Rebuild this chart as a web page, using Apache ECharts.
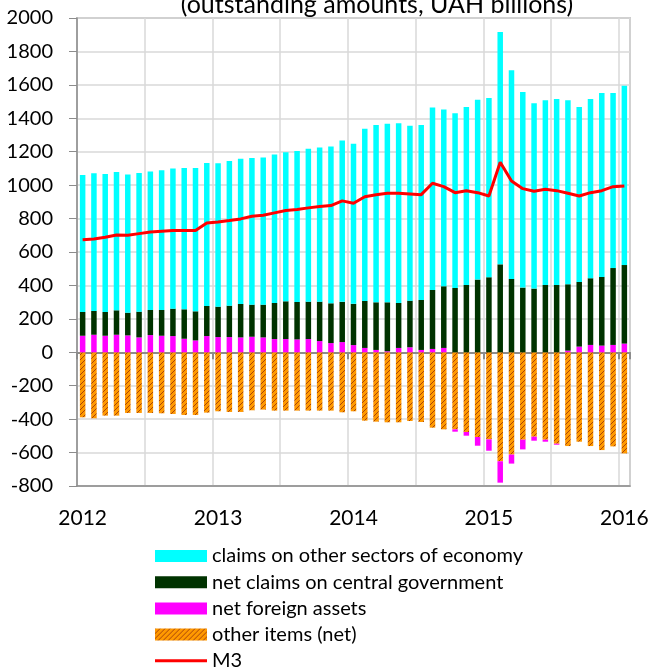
<!DOCTYPE html>
<html>
<head>
<meta charset="utf-8">
<script src="https://cdn.jsdelivr.net/npm/echarts@6/dist/echarts.min.js"></script>
<style>
html,body{margin:0;padding:0;background:#fff;}
#chart{width:654px;height:670px;}
</style>
</head>
<body>
<div id="chart"></div>
<script>
// Monthly categories Jan 2012 .. Jan 2016
const months = [];
for (let y = 2012; y <= 2016; y++) {
  for (let m = 1; m <= 12; m++) {
    if (y === 2016 && m > 1) break;
    months.push(y + '-' + (m < 10 ? '0' + m : m));
  }
}
const yearLabels = ['2012', '2013', '2014', '2015', '2016'];

const claimsOtherSectors = [820,824,826,828,826,830,828,836,838,846,858,856,858,866,869,878,880,888,892,904,914,922,938,965,958,1031,1061,1069,1075,1047,1047,1091,1057,1045,1065,1076,1073,1390,1248,1170,1109,1105,1112,1101,1047,1072,1100,1047,1073];
const netClaimsGov = [142,142,142,146,136,154,150,154,164,176,174,180,182,188,200,192,196,216,226,224,224,236,238,241,247,281,285,293,269,279,299,353,369,385,403,435,449,526,439,387,381,403,403,397,387,399,411,460,470];
const netForeignAssets = [99,105,99,105,101,89,103,99,97,81,71,97,91,91,89,93,89,79,79,77,79,67,55,61,43,26,14,6,26,30,14,20,26,-14,-22,-52,-68,-128,-54,-58,-24,-12,-6,10,34,44,40,44,52];
const otherItems = [-389,-395,-379,-379,-363,-363,-363,-365,-369,-375,-375,-361,-353,-357,-357,-347,-343,-349,-349,-349,-349,-349,-349,-359,-353,-409,-415,-419,-419,-411,-417,-451,-461,-461,-477,-507,-521,-652,-612,-523,-505,-523,-547,-561,-535,-561,-585,-563,-605];
const m3 = [674,678,688,702,700,710,720,724,728,728,728,774,780,788,798,814,820,834,848,854,864,872,878,906,892,931,943,951,951,947,943,1011,991,955,967,955,935,1137,1025,979,963,975,967,951,935,955,967,991,995];

const names = ['claims on other sectors of economy','net claims on central government','net foreign assets','other items (net)','M3'];

// hatch pattern for "other items"
const pc = document.createElement('canvas');
pc.width = 5; pc.height = 5;
const ctx = pc.getContext('2d');
ctx.fillStyle = '#ff9900';
ctx.fillRect(0,0,5,5);
ctx.strokeStyle = '#a8440a';
ctx.lineWidth = 1;
ctx.beginPath();
ctx.moveTo(0,5); ctx.lineTo(5,0);
ctx.moveTo(-1,1); ctx.lineTo(1,-1);
ctx.moveTo(4,6); ctx.lineTo(6,4);
ctx.stroke();
const hatch = {image: pc, repeat: 'repeat'};

const FONT = 'Lato, "Liberation Sans", sans-serif';
const BW = 5.5;

const chart = echarts.init(document.getElementById('chart'), null, {renderer: 'canvas'});
chart.setOption({
  animation: false,
  title: {
    text: '(outstanding amounts, UAH billions)',
    left: 372, textAlign: 'center', top: -13,
    textStyle: {fontFamily: FONT, fontSize: 25, fontWeight: 'normal', color: '#000'}
  },
  grid: {left: 77, right: 24, top: 18, bottom: 184, show: true, borderColor: '#a6a6a6', borderWidth: 1.5, containLabel: false},
  legend: {
    orient: 'vertical', left: 150, top: 541, height: 200,
    itemWidth: 52, itemHeight: 12, itemGap: 6.2,
    symbolKeepAspect: true,
    textStyle: {fontFamily: FONT, fontSize: 20, lineHeight: 20, color: '#000'},
    data: [
      {name: names[0], icon: 'rect'},
      {name: names[1], icon: 'rect'},
      {name: names[2], icon: 'rect'},
      {name: names[3], icon: 'rect'},
      {name: names[4], icon: 'path://M0,0h52v3h-52z'}
    ]
  },
  xAxis: [
    {
      type: 'category', data: months, boundaryGap: true, position: 'bottom',
      axisLine: {show: true, onZero: true, lineStyle: {color: '#8c8c8c', width: 2}},
      axisTick: {show: true, interval: (i) => i % 12 === 0, length: 7, lineStyle: {color: '#8c8c8c', width: 2}},
      axisLabel: {show: false},
      splitLine: {show: true, interval: (i) => i % 6 === 0, lineStyle: {color: '#d9d9d9', width: 1.5}}
    },
    {
      type: 'category', data: months, boundaryGap: true, position: 'bottom',
      axisLine: {show: true, onZero: false, lineStyle: {color: '#8c8c8c', width: 1.5}},
      axisTick: {show: false},
      splitLine: {show: false},
      axisLabel: {
        show: true, interval: (i) => i % 12 === 0, margin: 22,
        formatter: (v) => yearLabels[yearLabels.indexOf(v.slice(0,4))],
        fontFamily: FONT, fontSize: 21, color: '#000'
      }
    }
  ],
  yAxis: {
    type: 'value', min: -800, max: 2000, interval: 200,
    axisLine: {show: true, lineStyle: {color: '#8c8c8c', width: 1.5}},
    axisTick: {show: true, length: 8, lineStyle: {color: '#8c8c8c', width: 1}},
    axisLabel: {fontFamily: FONT, fontSize: 20, color: '#000', margin: 24, formatter: (v) => String(v)},
    splitLine: {show: true, lineStyle: {color: '#d9d9d9', width: 1.5}}
  },
  series: [
    {name: names[3], type: 'bar', stack: 'a', data: otherItems, barWidth: BW, itemStyle: {color: hatch}},
    {name: names[2], type: 'bar', stack: 'a', data: netForeignAssets, barWidth: BW, itemStyle: {color: '#ff00ff'}},
    {name: names[1], type: 'bar', stack: 'a', data: netClaimsGov, barWidth: BW, itemStyle: {color: '#003300'}},
    {name: names[0], type: 'bar', stack: 'a', data: claimsOtherSectors, barWidth: BW, itemStyle: {color: '#00ffff'}},
    {name: names[4], type: 'line', data: m3, symbol: 'none', showSymbol: false, z: 5,
     lineStyle: {color: '#ff0000', width: 3}, itemStyle: {color: '#ff0000'}}
  ]
});
</script>
</body>
</html>
